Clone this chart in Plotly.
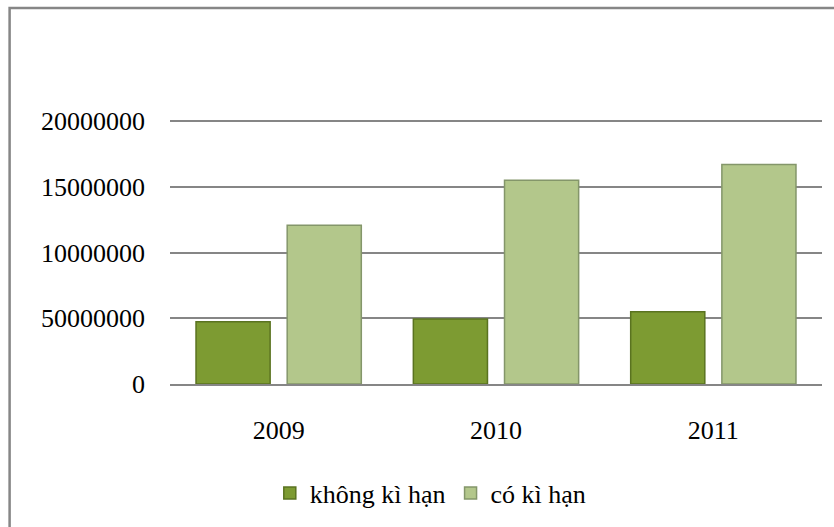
import plotly.graph_objects as go

years = ["2009", "2010", "2011"]
khong_ki_han = [4740000, 4940000, 5500000]
co_ki_han = [12080000, 15500000, 16700000]
tick_vals = [0, 5000000, 10000000, 15000000, 20000000]
tick_text = ["0", "50000000", "10000000", "15000000", "20000000"]

FONT = "Times New Roman, Liberation Serif, DejaVu Serif, serif"
GRID = "#868686"

fig = go.Figure()
fig.add_trace(go.Bar(
    name="không kì hạn", x=years, y=khong_ki_han,
    marker=dict(color="#7d9b32", line=dict(color="#5a7320", width=1.5)),
))
fig.add_trace(go.Bar(
    name="có kì hạn", x=years, y=co_ki_han,
    marker=dict(color="#b3c78b", line=dict(color="#84966a", width=1.5)),
))

# outer chart frame (only top and left edges fall inside the page)
fig.add_shape(type="rect", xref="paper", yref="paper",
              x0=-0.246, x1=1.05, y0=-0.6, y1=1.4135,
              line=dict(color=GRID, width=2.5), layer="below")

fig.update_layout(
    width=834, height=527,
    margin=dict(l=170, r=12, t=118, b=143, autoexpand=False),
    paper_bgcolor="white", plot_bgcolor="white",
    font=dict(family=FONT, size=26, color="black"),
    barmode="group", bargap=0.161, bargroupgap=0.187,
    showlegend=True,
    legend=dict(orientation="h", x=0.4, xanchor="center", y=-0.41, yanchor="middle",
                font=dict(family=FONT, size=26), itemwidth=30, traceorder="normal"),
    xaxis=dict(showline=True, linecolor=GRID, linewidth=1.5, ticks="",
               ticklabelstandoff=22, showgrid=False,
               tickfont=dict(family=FONT, size=26)),
    yaxis=dict(range=[0, 20228000], tickvals=tick_vals, ticktext=tick_text,
               showgrid=True, gridcolor=GRID, gridwidth=1.5, zeroline=False,
               showline=False, ticks="", ticklabelstandoff=24,
               tickfont=dict(family=FONT, size=26)),
)

fig.write_html("out.html")
